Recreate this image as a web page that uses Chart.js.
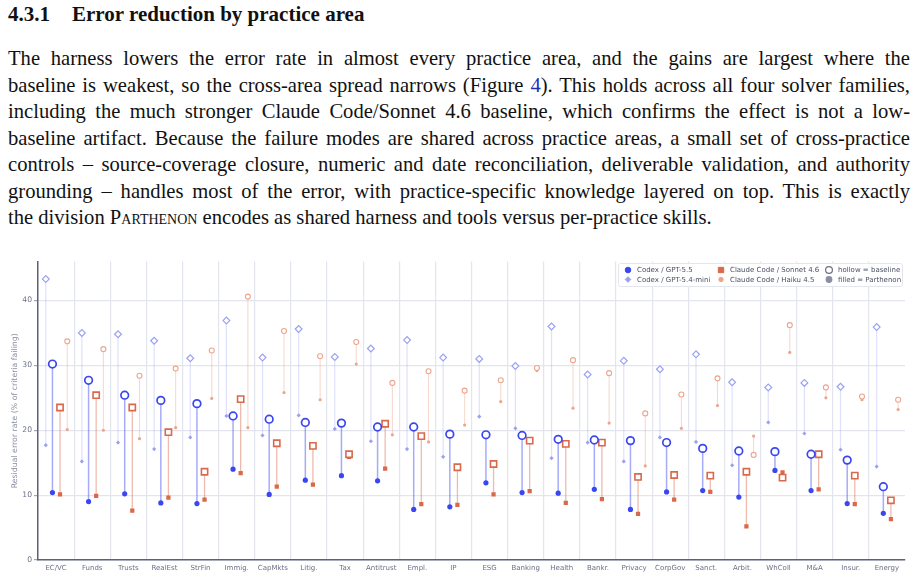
<!DOCTYPE html>
<html>
<head>
<meta charset="utf-8">
<script src="https://cdn.jsdelivr.net/npm/chart.js@4"></script>
<style>
  html, body { margin: 0; padding: 0; background: #fff; }
  body { width: 919px; height: 577px; position: relative; overflow: hidden; font-family: "Liberation Serif", "Times New Roman", serif; color: #111; }
  h3 { position: absolute; left: 8px; top: 1px; margin: 0; font-size: 21px; line-height: 26px; font-weight: bold; }
  h3 .num { display: inline-block; width: 64px; }
  #para { position: absolute; left: 8px; top: 45px; width: 902px; font-size: 20.6px; line-height: 26.5px; }
  #para div { text-align: justify; text-align-last: justify; }
  #para div.last { text-align-last: left; }
  .ref { color: #1f2fb8; }
  .sc { font-variant: small-caps; }
  #wrap { position: absolute; left: 0; top: 255px; width: 919px; height: 322px; }
</style>
</head>
<body>
<h3><span class="num">4.3.1</span>Error reduction by practice area</h3>
<div id="para">
  <div>The harness lowers the error rate in almost every practice area, and the gains are largest where the</div>
  <div>baseline is weakest, so the cross-area spread narrows (Figure <span class="ref">4</span>). This holds across all four solver families,</div>
  <div>including the much stronger Claude Code/Sonnet 4.6 baseline, which confirms the effect is not a low-</div>
  <div>baseline artifact. Because the failure modes are shared across practice areas, a small set of cross-practice</div>
  <div>controls – source-coverage closure, numeric and date reconciliation, deliverable validation, and authority</div>
  <div>grounding – handles most of the error, with practice-specific knowledge layered on top. This is exactly</div>
  <div class="last">the division <span class="sc">Parthenon</span> encodes as shared harness and tools versus per-practice skills.</div>
</div>
<div id="wrap"><canvas id="grafico"></canvas></div>

<script>
// Áreas de prática (eixo x)
const practiceAreas = ['EC/VC', 'Funds', 'Trusts', 'RealEst', 'StrFin', 'Immig.', 'CapMkts', 'Litig.', 'Tax', 'Antitrust', 'Empl.', 'IP',
    'ESG', 'Banking', 'Health', 'Bankr.', 'Privacy', 'CorpGov', 'Sanct.', 'Arbit.', 'WhColl', 'M&A', 'Insur.', 'Energy'];

// Taxa de erro residual (%) - baseline (vazado) e Parthenon (cheio)
const gpt55Base   = [30.2, 27.7, 25.4, 24.6, 24.1, 22.2, 21.7, 21.2, 21.1, 20.5, 20.5, 19.4, 19.3, 19.2, 18.6, 18.5, 18.4, 18.1, 17.2, 16.8, 16.7, 16.3, 15.4, 11.3];
const gpt55Parth  = [10.4, 9.0, 10.2, 8.8, 8.7, 14.0, 10.1, 12.3, 13.0, 12.2, 7.8, 8.2, 11.9, 10.4, 10.3, 10.9, 7.8, 10.5, 10.7, 9.7, 13.8, 10.7, 8.7, 7.2];
const miniBase    = [43.3, 35.0, 34.8, 33.8, 31.1, 36.9, 31.2, 35.6, 31.3, 32.6, 33.9, 31.2, 31.0, 29.9, 36.0, 28.6, 30.7, 29.4, 31.7, 27.4, 26.6, 27.3, 26.7, 35.9];
const miniParth   = [17.7, 15.2, 18.1, 17.1, 18.9, 22.2, 19.2, 22.3, 20.2, 18.3, 17.1, 15.9, 22.1, 20.3, 15.7, 18.1, 15.2, 18.9, 18.2, 14.6, 21.2, 19.5, 17.0, 14.4];
const sonnetBase  = [23.5, 25.4, 23.5, 19.7, 13.6, 24.8, 18.0, 17.6, 16.3, 21.0, 19.1, 14.3, 14.8, 18.4, 17.9, 18.1, 12.8, 13.1, 13.0, 13.6, 12.7, 16.3, 13.0, 9.2];
const sonnetParth = [10.1, 9.9, 7.6, 9.6, 9.3, 13.4, 11.3, 11.6, 15.9, 14.1, 8.6, 8.5, 10.1, 10.6, 8.8, 9.4, 7.1, 9.3, 10.5, 5.2, 13.5, 10.9, 8.6, 6.3];
const haikuBase   = [33.7, 32.5, 28.4, 29.5, 32.3, 40.6, 35.3, 31.4, 33.6, 27.3, 29.1, 26.1, 27.7, 29.6, 30.8, 28.8, 22.6, 25.5, 28.0, 16.2, 36.2, 26.6, 25.2, 24.7];
const haikuParth  = [20.1, 20.0, 18.7, 20.4, 24.9, 20.4, 25.8, 24.7, 30.2, 19.3, 18.2, 20.8, 24.4, 29.2, 23.4, 21.1, 14.5, 20.3, 23.8, 19.1, 32.0, 25.0, 24.7, 23.2];

const yTicks = [0, 10, 20, 30, 40];

// Configuração de cada série
const series = [
    { name: 'Codex / GPT-5.4-mini', base: miniBase, parth: miniParth, dx: -0.285, color: '#9aa1f3', line: 'rgba(154,161,243,0.32)', lw: 1.2,
      style: 'rectRot', rBase: 3.4, rParth: 2.1, bw: 1.2 },
    { name: 'Codex / GPT-5.5', base: gpt55Base, parth: gpt55Parth, dx: -0.1, color: '#3a47f0', line: 'rgba(58,71,240,0.45)', lw: 1.5,
      style: 'circle', rBase: 3.8, rParth: 2.6, bw: 1.7 },
    { name: 'Claude Code / Sonnet 4.6', base: sonnetBase, parth: sonnetParth, dx: 0.11, color: '#d9694a', line: 'rgba(217,105,74,0.45)', lw: 1.3,
      style: 'rect', rBase: 4.4, rParth: 3.0, bw: 1.6 },
    { name: 'Claude Code / Haiku 4.5', base: haikuBase, parth: haikuParth, dx: 0.31, color: '#eda58c', line: 'rgba(237,165,140,0.42)', lw: 1.1,
      style: 'circle', rBase: 2.5, rParth: 1.6, bw: 1.1 }
];

const datasets = [];
series.forEach(s => {
    const seg = [];
    practiceAreas.forEach((a, i) => {
        const x = i + 0.5 + s.dx;
        seg.push({ x: x, y: s.base[i] }, { x: x, y: s.parth[i] }, { x: x, y: null });
    });
    datasets.push({
        type: 'line', label: s.name + ' seg', data: seg, borderColor: s.line, borderWidth: s.lw,
        pointRadius: 0, spanGaps: false, order: 10
    });
    datasets.push({
        type: 'scatter', label: s.name + ' parth',
        data: s.parth.map((v, i) => ({ x: i + 0.5 + s.dx, y: v })),
        pointStyle: s.style, pointRadius: s.rParth, backgroundColor: s.color, borderColor: s.color, borderWidth: 0, order: 2
    });
    datasets.push({
        type: 'scatter', label: s.name + ' base',
        data: s.base.map((v, i) => ({ x: i + 0.5 + s.dx, y: v })),
        pointStyle: s.style, pointRadius: s.rBase, backgroundColor: '#ffffff', borderColor: s.color, borderWidth: s.bw, order: 1
    });
});

// Legenda desenhada à mão (3 colunas x 2 linhas)
const legendaPlugin = {
    id: 'legenda',
    afterDraw(chart) {
        const ctx = chart.ctx;
        const top = 264 - 255;
        ctx.save();
        ctx.fillStyle = 'rgba(255,255,255,0.9)';
        ctx.strokeStyle = '#e4e6ee';
        ctx.lineWidth = 1;
        ctx.beginPath();
        ctx.roundRect(618.5, top - 0.5, 284, 23, 2);
        ctx.fill();
        ctx.stroke();
        const items = [
            { x: 628, row: 0, text: 'Codex / GPT-5.5', style: 'circle', r: 2.8, fill: '#3a47f0' },
            { x: 628, row: 1, text: 'Codex / GPT-5.4-mini', style: 'rectRot', r: 2.8, fill: '#9aa1f3' },
            { x: 721, row: 0, text: 'Claude Code / Sonnet 4.6', style: 'rect', r: 3.8, fill: '#d9694a' },
            { x: 721, row: 1, text: 'Claude Code / Haiku 4.5', style: 'circle', r: 2.2, fill: '#eda58c' },
            { x: 829, row: 0, text: 'hollow = baseline', style: 'circle', r: 3.4, fill: null, stroke: '#6b7085' },
            { x: 829, row: 1, text: 'filled = Parthenon', style: 'circle', r: 2.8, fill: '#8a8fa3' }
        ];
        ctx.font = '7px "DejaVu Sans"';
        ctx.textBaseline = 'middle';
        items.forEach(it => {
            const y = top + 6 + it.row * 9.5;
            ctx.fillStyle = it.fill || '#ffffff';
            ctx.strokeStyle = it.stroke || it.fill;
            ctx.lineWidth = it.fill ? 0 : 1.2;
            Chart.helpers.drawPoint(ctx, { pointStyle: it.style, radius: it.r, borderWidth: ctx.lineWidth, rotation: 0 }, it.x, y);
            ctx.fillStyle = '#4a4f63';
            ctx.fillText(it.text, it.x + 9, y + 0.5);
        });
        ctx.restore();
    }
};

new Chart(document.getElementById('grafico'), {
    data: { datasets: datasets },
    options: {
        responsive: true,
        maintainAspectRatio: false,
        animation: false,
        layout: { padding: { left: 0, right: 14, top: 5, bottom: 0 } },
        plugins: { legend: { display: false }, tooltip: { enabled: false } },
        scales: {
            x: {
                type: 'linear', min: 0, max: 24,
                afterFit: (scale) => { scale.height = 17; },
                ticks: {
                    stepSize: 0.5, autoSkip: false, maxRotation: 0, includeBounds: false,
                    font: { family: 'DejaVu Sans', size: 7 }, color: '#6b7085', padding: 4,
                    callback: (v) => (Math.abs(v % 1 - 0.5) < 1e-6) ? practiceAreas[Math.floor(v)] : ''
                },
                grid: {
                    drawTicks: false,
                    color: (c) => {
                        const v = c.tick ? c.tick.value : 0;
                        return (Math.abs(v - Math.round(v)) < 1e-6 && v > 0 && v < 24) ? '#e3e5ee' : 'rgba(0,0,0,0)';
                    },
                    lineWidth: 1.2
                },
                border: { color: '#5c6178', width: 1.5 }
            },
            y: {
                min: 0, max: 46,
                afterFit: (scale) => { scale.width = 38; },
                afterBuildTicks: (scale) => { scale.ticks = yTicks.map(v => ({ value: v })); },
                ticks: { font: { family: 'DejaVu Sans', size: 7.6 }, color: '#6b7085', padding: 2 },
                grid: { color: '#e3e5ee', lineWidth: 1.2, tickLength: 4, tickColor: '#9da2b5' },
                border: { color: '#5c6178', width: 1.5 },
                title: {
                    display: true, text: 'Residual error rate (% of criteria failing)',
                    font: { family: 'DejaVu Sans', size: 7.8 }, color: '#8a8fa3', padding: { top: 10, bottom: 0 }
                }
            }
        }
    },
    plugins: [legendaPlugin]
});
</script>
</body>
</html>
